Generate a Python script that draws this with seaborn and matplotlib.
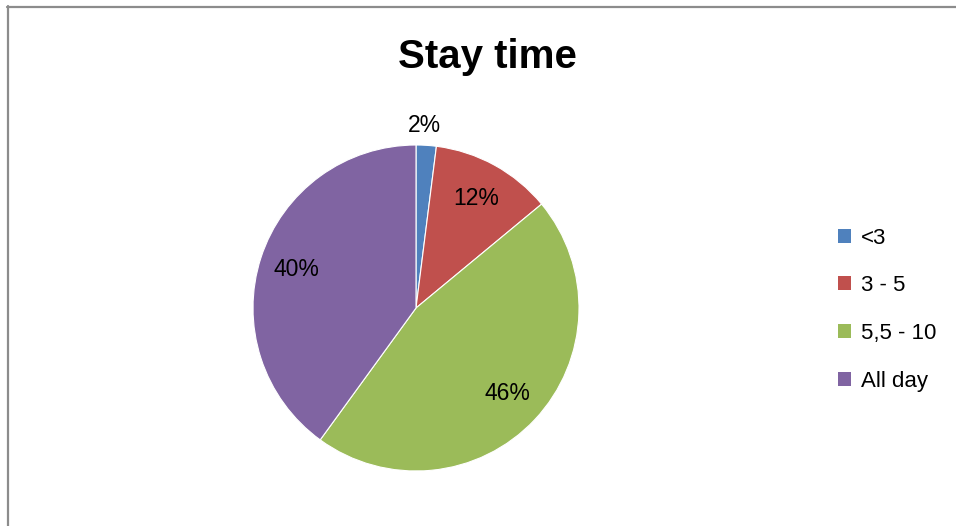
import numpy as np
import matplotlib
matplotlib.use("Agg")
import matplotlib.pyplot as plt
from matplotlib.lines import Line2D
import seaborn as sns

categories = ["<3", "3 - 5", "5,5 - 10", "All day"]
values = [2, 12, 46, 40]
colors = ["#4F81BD", "#C0504D", "#9BBB59", "#8064A2"]
title = "Stay time"

sns.set_theme(style="white")
plt.rcParams["font.family"] = ["Liberation Sans", "DejaVu Sans"]
plt.rcParams["text.color"] = "black"

W, H = 956, 526
fig = plt.figure(figsize=(W / 100, H / 100), dpi=100)
fig.patch.set_facecolor("white")

# pie axes: center (416,308), radius 163 px
cx, cy, r = 416, 308, 163
ax = fig.add_axes([(cx - r) / W, (H - cy - r) / H, 2 * r / W, 2 * r / H])
wedges, texts, autotexts = ax.pie(
    values, colors=colors, startangle=90, counterclock=False,
    autopct="%1.0f%%", pctdistance=0.77,
    wedgeprops=dict(edgecolor="white", linewidth=0.8),
    textprops=dict(fontsize=16.5, color="black"),
)
ax.set_xlim(-1, 1)
ax.set_ylim(-1, 1)
ax.set_aspect("auto")

# move the small slice label outside
w0 = wedges[0]
mid = np.deg2rad((w0.theta1 + w0.theta2) / 2)
autotexts[0].set_position((1.12 * np.cos(mid) - 0.02, 1.12 * np.sin(mid)))

fig.text(487.5 / W, (H - 57) / H, title, ha="center", va="center",
         fontsize=29, fontweight="bold", color="black")

handles = [plt.Rectangle((0, 0), 1, 1, facecolor=c, edgecolor="none") for c in colors]
leg = fig.legend(handles, categories, loc="center left",
                 bbox_to_anchor=(838 / W, (H - 309.5) / H), frameon=False,
                 fontsize=16, handlelength=0.6, handleheight=0.6, handletextpad=0.45,
                 labelspacing=1.2, borderpad=0, borderaxespad=0)
for t in leg.get_texts():
    t.set_color("black")

# outer border (left and top visible)
fig.add_artist(Line2D([7.5 / W, 7.5 / W], [0, (H - 6) / H], transform=fig.transFigure,
                      color="#8c8c8c", linewidth=1.6))
fig.add_artist(Line2D([6.7 / W, 1], [(H - 6.5) / H, (H - 6.5) / H], transform=fig.transFigure,
                      color="#8c8c8c", linewidth=1.6))

fig.savefig("out.png", dpi=100, facecolor="white")
